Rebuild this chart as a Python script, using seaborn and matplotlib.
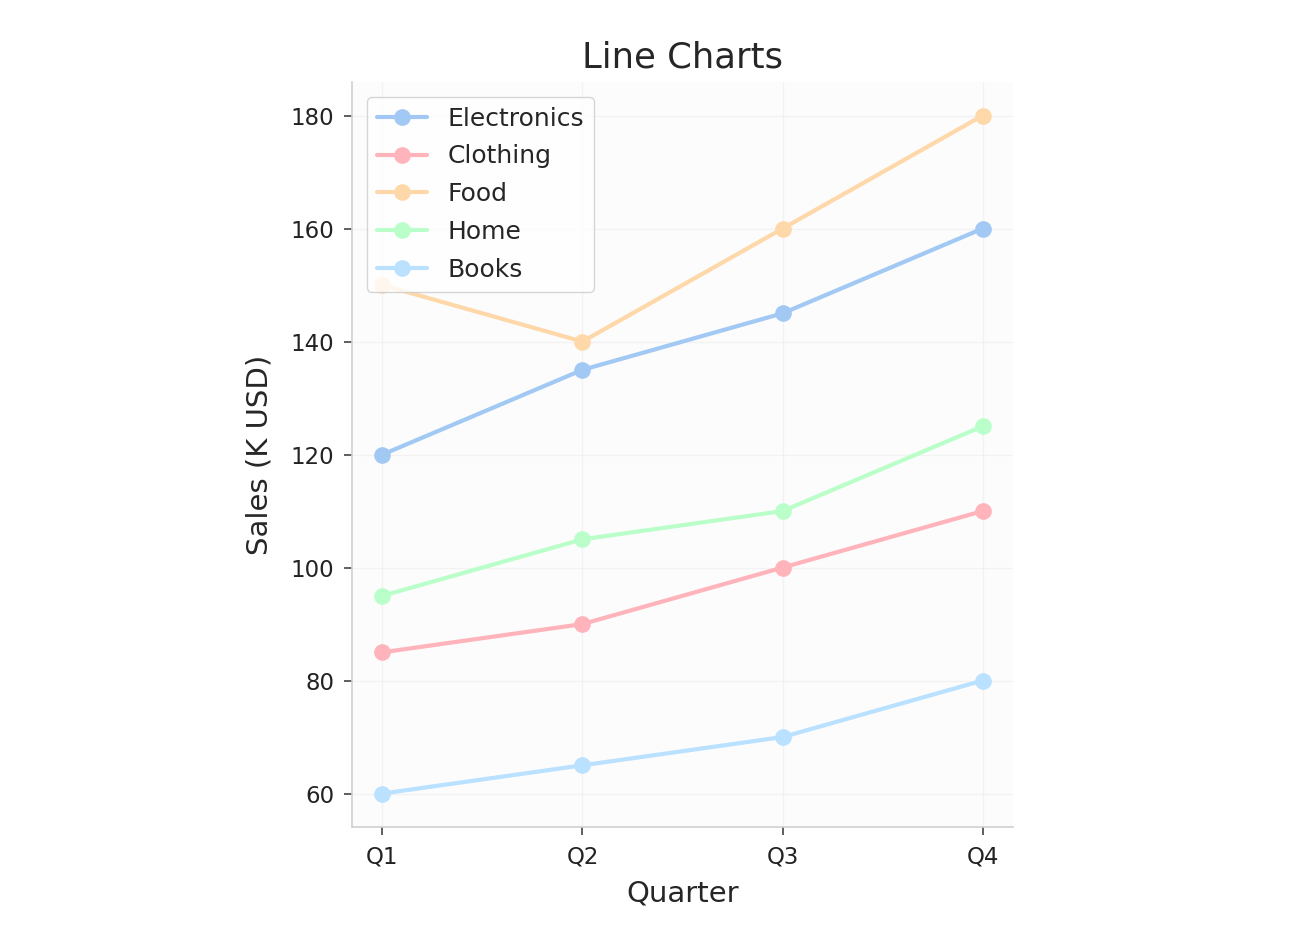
import pandas as pd
import seaborn as sns
import matplotlib.pyplot as plt

quarters = ['Q1', 'Q2', 'Q3', 'Q4']
electronics = [120, 135, 145, 160]
clothing = [85, 90, 100, 110]
food = [150, 140, 160, 180]
home = [95, 105, 110, 125]
books = [60, 65, 70, 80]

categories = ['Electronics', 'Clothing', 'Food', 'Home', 'Books']
colors = ['#a1c9f4', '#ffb3ba', '#ffd8aa', '#baffc9', '#bae1ff']

rows = []
for cat, vals in zip(categories, [electronics, clothing, food, home, books]):
    for q, v in zip(quarters, vals):
        rows.append({'Quarter': q, 'Sales': v, 'Category': cat})
df = pd.DataFrame(rows)

sns.set_style('ticks')
plt.rcParams['font.family'] = ['DejaVu Sans']

fig = plt.figure(figsize=(13.1, 9.5), dpi=100)
ax = fig.add_axes([0.269, 0.129, 0.504, 0.785])
ax.set_facecolor('#fcfcfc')

sns.lineplot(data=df, x='Quarter', y='Sales', hue='Category', palette=colors,
             marker='o', markersize=12, markeredgewidth=0, linewidth=3,
             sort=False, ax=ax)

ax.grid(True, color='#eeeeee', linewidth=1, alpha=0.7)
ax.set_title('Line Charts', fontsize=25.5, pad=10)
ax.set_xlabel('Quarter', fontsize=21, labelpad=8)
ax.set_ylabel('Sales (K USD)', fontsize=21, labelpad=12)
ax.tick_params(labelsize=16.5, labelcolor='#222222', color='#444444',
               length=6, width=1.2, pad=7)
for s in ['top', 'right']:
    ax.spines[s].set_visible(False)
for s in ['left', 'bottom']:
    ax.spines[s].set_color('#d0d0d0')
    ax.spines[s].set_linewidth(1.2)

leg = ax.legend(loc='upper left', fontsize=18, frameon=True, title=None,
                handlelength=2.0, borderaxespad=0.6, labelspacing=0.55)
leg.get_frame().set_edgecolor('#cccccc')

fig.savefig('out.png', dpi=100)
